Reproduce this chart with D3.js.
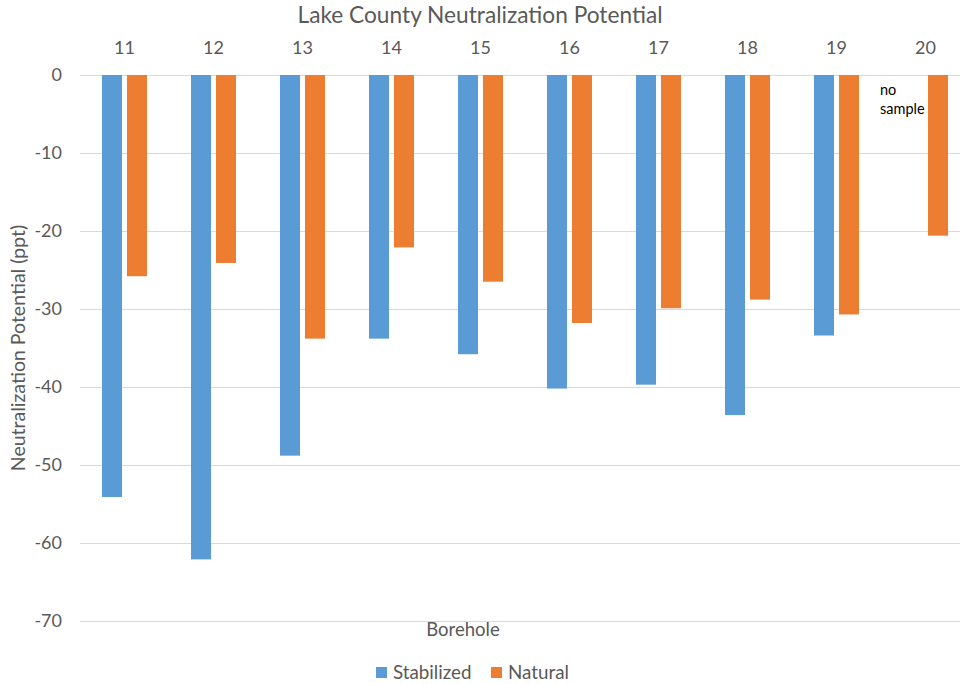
<!DOCTYPE html>
<html><head><meta charset="utf-8">
<script src="https://cdn.jsdelivr.net/npm/d3@7"></script>
<style>body{margin:0;background:#fff}svg{display:block;font-family:Lato,"Open Sans",sans-serif}</style>
</head><body><svg id="c" width="960" height="684"></svg>
<script>
const boreholes = ["11","12","13","14","15","16","17","18","19","20"];
const stabilized = [-54.1,-62.1,-48.8,-33.8,-35.8,-40.2,-39.7,-43.6,-33.4,null];
const natural = [-25.8,-24.1,-33.8,-22.1,-26.5,-31.8,-29.9,-28.8,-30.7,-20.6];
const yTicks = [0,-10,-20,-30,-40,-50,-60,-70];
const seriesNames = ["Stabilized","Natural"];
const colors = ["#5B9BD5","#ED7D31"];

const svg = d3.select("#c");
const x = d3.scaleBand().domain(boreholes).range([80,970]);
const y = d3.scaleLinear().domain([0,-70]).range([75,621]);
const inner = d3.scaleBand().domain(seriesNames).range([x.bandwidth()/2-22.5, x.bandwidth()/2+22.5]).paddingInner(0.2);

// gridlines
svg.append("g").selectAll("line").data(yTicks).join("line")
  .attr("x1",80).attr("x2",960).attr("y1",d=>Math.round(y(d))+0.5).attr("y2",d=>Math.round(y(d))+0.5)
  .attr("stroke","#D9D9D9").attr("stroke-width",1);

// y axis labels
const yAxis = d3.axisLeft(y).tickValues(yTicks).tickSize(0).tickPadding(0).tickFormat(d=>String(d));
const ya = svg.append("g").attr("transform","translate(62,0)").call(yAxis);
ya.select(".domain").remove();
ya.selectAll("text").attr("fill","#595959").style("font-size","18px").style("font-family","Lato,'Open Sans',sans-serif");

// x axis labels on top
const xAxis = d3.axisTop(x).tickSize(0).tickPadding(0);
const xa = svg.append("g").attr("transform","translate(0,54)").call(xAxis);
xa.select(".domain").remove();
xa.selectAll("text").attr("fill","#595959").style("font-size","18px").style("font-family","Lato,'Open Sans',sans-serif");

// bars
const data = [];
boreholes.forEach((b,i)=>{
  [stabilized[i],natural[i]].forEach((v,j)=>{ if(v!==null) data.push({b,s:seriesNames[j],v,c:colors[j]}); });
});
svg.append("g").selectAll("rect").data(data).join("rect")
  .attr("x",d=>x(d.b)+inner(d.s))
  .attr("width",inner.bandwidth())
  .attr("y",y(0))
  .attr("height",d=>y(d.v)-y(0))
  .attr("fill",d=>d.c);

// no sample note
const ns = svg.append("text").attr("y",95).attr("fill","#000").style("font-size","14.5px");
ns.append("tspan").attr("x",880).attr("dy",0).text("no");
ns.append("tspan").attr("x",880).attr("dy",19).text("sample");

// title
svg.append("text").attr("x",480).attr("y",23).attr("text-anchor","middle").attr("fill","#595959").style("font-size","22.7px").text("Lake County Neutralization Potential");

// y title
svg.append("text").attr("transform","translate(25,348) rotate(-90)").attr("text-anchor","middle").attr("fill","#595959").style("font-size","19.5px").text("Neutralization Potential (ppt)");

// x title
svg.append("text").attr("x",463).attr("y",636).attr("text-anchor","middle").attr("fill","#595959").style("font-size","18.5px").text("Borehole");

// legend
const leg = svg.append("g");
const legX = [376,491];
seriesNames.forEach((s,i)=>{
  leg.append("rect").attr("x",legX[i]).attr("y",667).attr("width",11).attr("height",11).attr("fill",colors[i]);
  leg.append("text").attr("x",legX[i]+17).attr("y",679).attr("fill","#595959").style("font-size","18.8px").text(s);
});
</script></body></html>
